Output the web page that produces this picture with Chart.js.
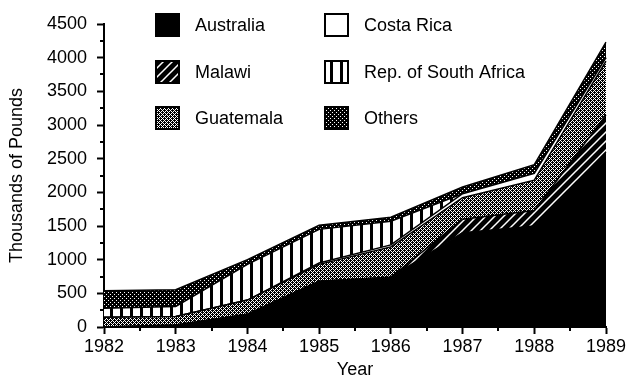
<!DOCTYPE html>
<html>
<head>
<meta charset="utf-8">
<script src="https://cdn.jsdelivr.net/npm/chart.js"></script>
<style>
  html, body { margin: 0; padding: 0; background: #fff; }
  #wrap { width: 631px; height: 381px; }
</style>
</head>
<body>
<div id="wrap"><canvas id="chart" width="631" height="381"></canvas></div>
<script>
// data (thousands of pounds, stacked bottom -> top)
const years = ['1982', '1983', '1984', '1985', '1986', '1987', '1988', '1989'];
const australia   = [0,   30,  190, 680, 740, 1400, 1500, 2600];
const malawi      = [0,   0,   0,   0,   0,   200,  230,  550];
const guatemala   = [145, 125, 210, 250, 450, 320,  450,  800];
const costaRica   = [0,   0,   0,   20,  30,  60,   100,  50];
const southAfrica = [135, 150, 530, 500, 350, 0,    0,    0];
const others      = [260, 250, 70,  60,  60,  100,  130,  230];
const seriesNames = ['Australia', 'Malawi', 'Guatemala', 'Costa Rica', 'Rep. of South Africa', 'Others'];
const yTicks = [0, 500, 1000, 1500, 2000, 2500, 3000, 3500, 4000, 4500];

const canvas = document.getElementById('chart');
const mainCtx = canvas.getContext('2d');

function makePattern(w, h, draw) {
  const c = document.createElement('canvas');
  c.width = w; c.height = h;
  const g = c.getContext('2d');
  draw(g, w, h);
  return mainCtx.createPattern(c, 'repeat');
}

const fills = [
  '#000',
  // Malawi: black with white diagonals
  makePattern(9, 9, function(g, w, h) {
    g.fillStyle = '#000'; g.fillRect(0, 0, w, h);
    g.strokeStyle = '#fff'; g.lineWidth = 1.5;
    g.beginPath();
    g.moveTo(-1, h + 1); g.lineTo(w + 1, -1);
    g.moveTo(-1, 1); g.lineTo(1, -1);
    g.moveTo(w - 1, h + 1); g.lineTo(w + 1, h - 1);
    g.stroke();
  }),
  // Guatemala: fine cross-hatch
  makePattern(4, 4, function(g) {
    g.fillStyle = '#000'; g.fillRect(0, 0, 4, 4);
    g.fillStyle = '#fff';
    for (let x = 0; x < 4; x++) {
      for (let y = 0; y < 4; y++) {
        if ((x + y) % 4 === 0 || (x - y + 8) % 4 === 0) g.fillRect(x, y, 1, 1);
      }
    }
  }),
  '#fff',
  // South Africa: vertical bars
  makePattern(10, 10, function(g) {
    g.fillStyle = '#fff'; g.fillRect(0, 0, 10, 10);
    g.fillStyle = '#000'; g.fillRect(0, 0, 3, 10);
  }),
  // Others: black with white speckles
  makePattern(4, 4, function(g) {
    g.fillStyle = '#000'; g.fillRect(0, 0, 4, 4);
    g.fillStyle = '#fff';
    g.fillRect(0, 0, 1, 1);
    g.fillRect(2, 2, 1, 1);
  })
];

const seriesData = [australia, malawi, guatemala, costaRica, southAfrica, others];

Chart.defaults.font.family = '"Liberation Sans", Arial, Helvetica, sans-serif';
Chart.defaults.font.size = 18;
Chart.defaults.color = '#000';

const minorTicks = {
  id: 'minorTicks',
  afterDraw(chart) {
    const { ctx, scales: { x, y } } = chart;
    ctx.save();
    ctx.strokeStyle = '#000';
    ctx.lineWidth = 2;
    ctx.beginPath();
    for (let v = 250; v < 4500; v += 500) {
      const py = Math.round(y.getPixelForValue(v));
      ctx.moveTo(x.left - 4, py);
      ctx.lineTo(x.left, py);
    }
    for (let i = 0; i < years.length - 1; i++) {
      const px = Math.round((x.getPixelForValue(i) + x.getPixelForValue(i + 1)) / 2);
      ctx.moveTo(px, y.bottom);
      ctx.lineTo(px, y.bottom + 4);
    }
    ctx.stroke();
    ctx.restore();
  }
};

const boxLegend = {
  id: 'boxLegend',
  afterDraw(chart) {
    const { ctx, chartArea } = chart;
    const colX = [chartArea.left + 52, chartArea.left + 221];
    const rowY = [25, 72, 118];
    ctx.save();
    ctx.font = '18px "Liberation Sans", Arial, sans-serif';
    ctx.textBaseline = 'middle';
    chart.data.datasets.forEach(function(ds, i) {
      const bx = colX[Math.floor(i / 3)];
      const by = rowY[i % 3];
      ctx.fillStyle = ds.backgroundColor;
      ctx.fillRect(bx, by - 11, 23, 22);
      ctx.strokeStyle = '#000';
      ctx.lineWidth = 2;
      ctx.strokeRect(bx, by - 11, 23, 22);
      ctx.fillStyle = '#000';
      ctx.fillText(ds.label, bx + 39, by + 1);
    });
    ctx.restore();
  }
};

new Chart(mainCtx, {
  type: 'line',
  data: {
    labels: years,
    datasets: seriesNames.map(function(name, i) {
      return {
        label: name,
        data: seriesData[i],
        backgroundColor: fills[i],
        borderColor: '#000',
        borderWidth: 1.5,
        pointRadius: 0,
        tension: 0,
        fill: i === 0 ? 'origin' : '-1'
      };
    })
  },
  options: {
    responsive: false,
    animation: false,
    layout: { padding: { left: 0, right: 25, top: 24, bottom: 0 } },
    plugins: {
      legend: { display: false },
      tooltip: { enabled: false }
    },
    scales: {
      x: {
        offset: false,
        grid: { drawOnChartArea: false, tickLength: 7, tickWidth: 2, tickColor: '#000' },
        border: { display: true, color: '#000', width: 2 },
        ticks: { padding: 2, maxRotation: 0, autoSkip: false },
        title: { display: true, text: 'Year', padding: { top: 0, bottom: 0 } },
        afterFit(scale) { scale.height = 54; }
      },
      y: {
        stacked: true,
        min: 0,
        max: 4500,
        afterBuildTicks(scale) { scale.ticks = yTicks.map(v => ({ value: v })); },
        grid: { drawOnChartArea: false, tickLength: 7, tickWidth: 2, tickColor: '#000' },
        border: { display: true, color: '#000', width: 2 },
        ticks: { padding: 10, callback: v => String(v) },
        title: { display: true, text: 'Thousands of Pounds', padding: { top: 6, bottom: 0 } },
        afterFit(scale) { scale.width = 104; }
      }
    }
  },
  plugins: [minorTicks, boxLegend]
});
</script>
</body>
</html>
